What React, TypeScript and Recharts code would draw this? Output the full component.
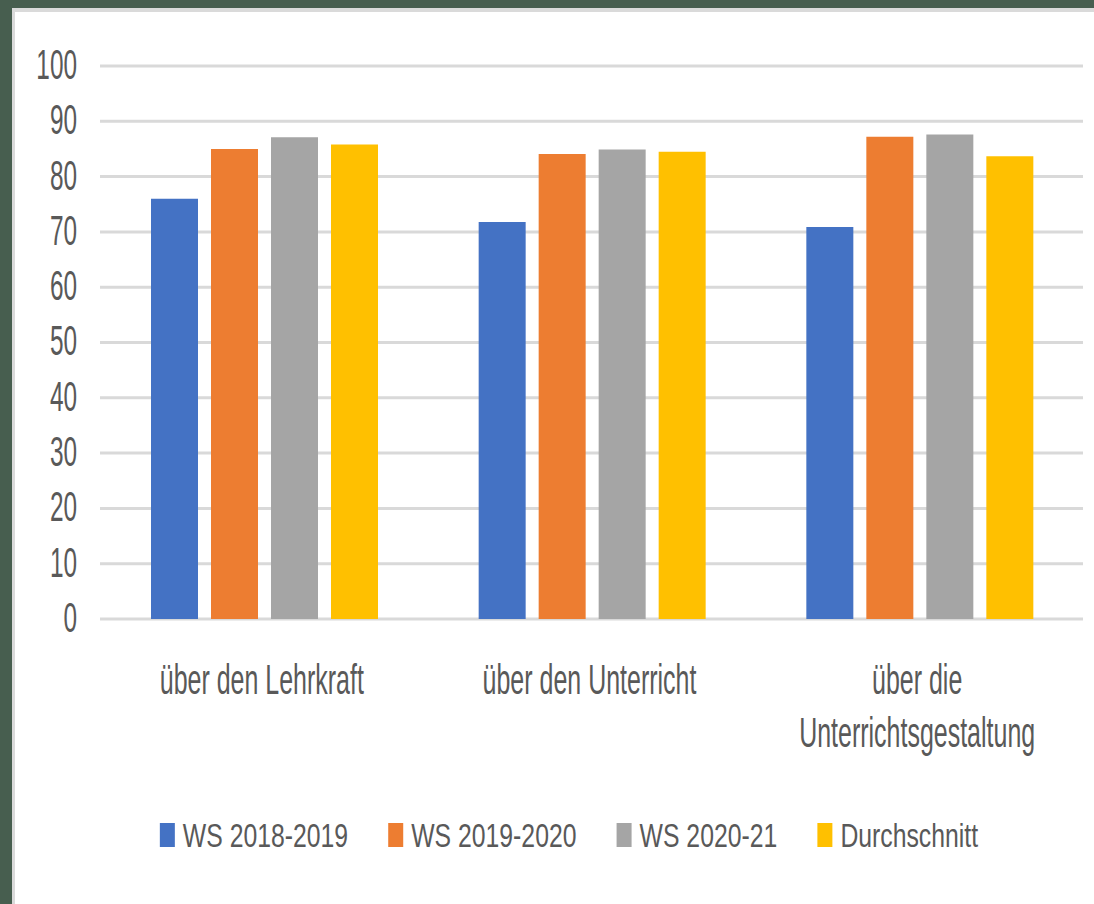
import React from 'react';
import { BarChart, Bar, XAxis, YAxis, CartesianGrid, Legend } from 'recharts';

const categories = ['über den Lehrkraft', 'über den Unterricht', 'über die Unterrichtsgestaltung'];
const seriesNames = ['WS 2018-2019', 'WS 2019-2020', 'WS 2020-21', 'Durchschnitt'];
const ws2018 = [76, 71.8, 70.9];
const ws2019 = [85, 84.1, 87.2];
const ws2020 = [87.1, 84.9, 87.6];
const durchschnitt = [85.8, 84.5, 83.7];
const yTicks = [0, 10, 20, 30, 40, 50, 60, 70, 80, 90, 100];
const colors = ['#4472C4', '#ED7D31', '#A5A5A5', '#FFC000'];

const data = categories.map((c, i) => ({
  category: c,
  s0: ws2018[i],
  s1: ws2019[i],
  s2: ws2020[i],
  s3: durchschnitt[i],
}));

const FONT = "'Liberation Sans', Arial, sans-serif";
const TEXT = '#595959';
const AXIS_FS = 42;
const AXIS_SX = 0.595;
const LEG_FS = 33.5;
const LEG_SX = 0.74;

let ctx: CanvasRenderingContext2D | null = null;
function measure(text: string, size: number): number {
  if (!ctx) ctx = document.createElement('canvas').getContext('2d');
  if (!ctx) return text.length * size * 0.5;
  ctx.font = `${size}px 'Liberation Sans'`;
  return ctx.measureText(text).width;
}

const squeeze = (x: number, s: number) => `translate(${x} 0) scale(${s} 1) translate(${-x} 0)`;

const YTick = (props: any) => {
  const { x, y, payload } = props;
  return (
    <text x={x} y={y + 13} textAnchor="end" fill={TEXT} fontSize={AXIS_FS} fontFamily={FONT}
      transform={squeeze(x, 0.58)}>
      {payload.value}
    </text>
  );
};

const XTick = (props: any) => {
  const { x, y, payload } = props;
  const words = String(payload.value).split(' ');
  const lines: string[] = [];
  let cur = '';
  for (const w of words) {
    const t = cur ? cur + ' ' + w : w;
    if (cur && measure(t, AXIS_FS) * AXIS_SX > 300) {
      lines.push(cur);
      cur = w;
    } else cur = t;
  }
  lines.push(cur);
  return (
    <g>
      {lines.map((l, i) => (
        <text key={i} x={x - 2} y={y + 75 + i * 53} textAnchor="middle" fill={TEXT} fontSize={AXIS_FS}
          fontFamily={FONT} transform={squeeze(x - 2, AXIS_SX)}>
          {l}
        </text>
      ))}
    </g>
  );
};

const LegendContent = (props: any) => {
  const raw: any[] = props.payload || [];
  const payload = [...raw].sort(
    (a, b) => seriesNames.indexOf(String(a.value)) - seriesNames.indexOf(String(b.value))
  );
  const sq = 15;
  const gapText = 8;
  const gapItem = 40;
  const widths = payload.map((p) => measure(String(p.value), LEG_FS) * LEG_SX);
  const total = widths.reduce((a, w) => a + sq + gapText + w, 0) + gapItem * (payload.length - 1);
  let cx = 569 - total / 2;
  const items = payload.map((p, i) => {
    const x0 = cx;
    cx += sq + gapText + widths[i] + gapItem;
    const tx = x0 + sq + gapText;
    return (
      <g key={i}>
        <rect x={x0} y={23} width={sq} height={24} fill={p.color} />
        <text x={tx} y={47} fill={TEXT} fontSize={LEG_FS} fontFamily={FONT} transform={squeeze(tx, LEG_SX)}>
          {p.value}
        </text>
      </g>
    );
  });
  return (
    <svg width={1094} height={80} style={{ position: 'absolute', left: 0, top: 800, overflow: 'visible' }}>
      {items}
    </svg>
  );
};

export default function App() {
  return (
    <div style={{ position: 'absolute', left: 0, top: 0, width: 1094, height: 904, background: '#475E4F', overflow: 'hidden' }}>
      <div style={{ position: 'absolute', left: 12, top: 8, width: 1082, height: 896, background: '#FFFFFF', borderTop: '4px solid #DADADA', borderLeft: '3px solid #DADADA', boxSizing: 'border-box' }} />
      <div style={{ position: 'absolute', left: 0, top: 0 }}>
        <BarChart width={1094} height={904} data={data} margin={{ top: 66, right: 11, left: 0, bottom: 185 }}
          barGap={13} barCategoryGap={51}>
          <CartesianGrid vertical={false} stroke="#D9D9D9" strokeWidth={3} />
          <XAxis dataKey="category" axisLine={false} tickLine={false} tickSize={0} tickMargin={0} height={100}
            tick={<XTick />} interval={0} />
          <YAxis domain={[0, 100]} ticks={yTicks} axisLine={false} tickLine={false} tickSize={0} tickMargin={23}
            width={100} tick={<YTick />} interval={0} />
          <Legend content={<LegendContent />}
            wrapperStyle={{ position: 'absolute', left: 0, top: 0, width: 1094, height: 0, bottom: 'auto', overflow: 'visible' }} />
          {seriesNames.map((n, i) => (
            <Bar key={n} dataKey={`s${i}`} name={n} fill={colors[i]} isAnimationActive={false} />
          ))}
        </BarChart>
      </div>
    </div>
  );
}
